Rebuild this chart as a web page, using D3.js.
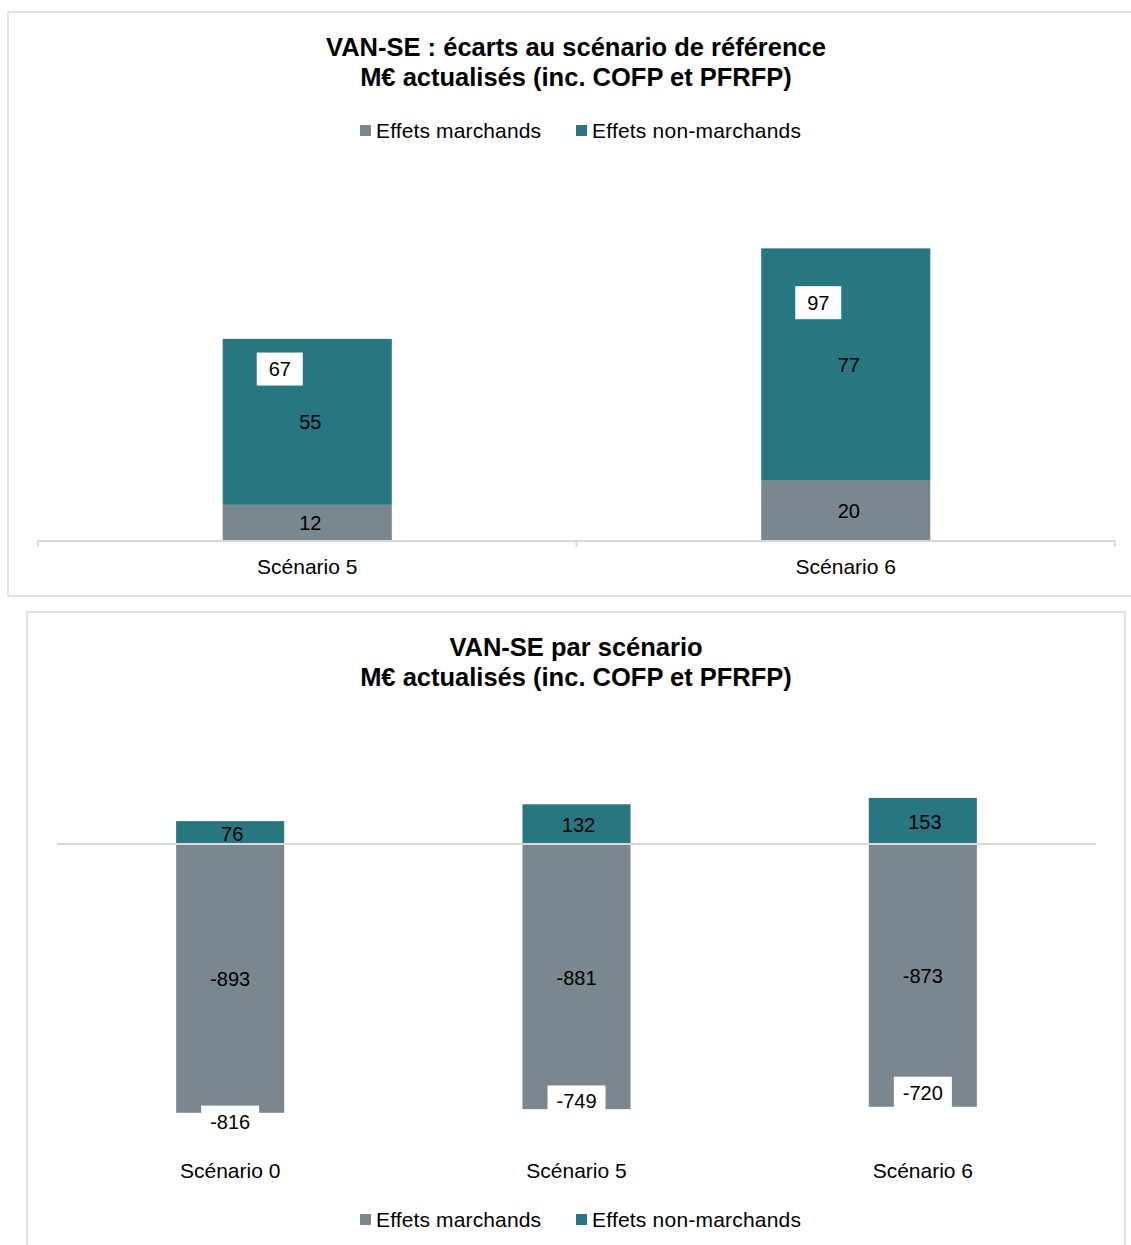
<!DOCTYPE html>
<html>
<head>
<meta charset="utf-8">
<script src="https://cdn.jsdelivr.net/npm/d3@7"></script>
<style>
  body { margin: 0; background: #fff; }
  svg { display: block; font-family: "Liberation Sans", Arial, sans-serif; }
</style>
</head>
<body>
<svg id="chart" width="1131" height="1245"></svg>
<script>
// chart 1 : écarts au scénario de référence
const ecartCategories = ['Scénario 5', 'Scénario 6'];
const ecartMarchands = [12, 20];
const ecartNonMarchands = [55, 77];
const ecartTotals = [67, 97];

// chart 2 : VAN-SE par scénario
const vanCategories = ['Scénario 0', 'Scénario 5', 'Scénario 6'];
const vanMarchands = [-893, -881, -873];
const vanNonMarchands = [76, 132, 153];
const vanTotals = [-816, -749, -720];

const seriesNames = ['Effets marchands', 'Effets non-marchands'];

const GRAY = '#7b878e';
const TEAL = '#277681';
const FRAME = '#d9d9d9';

const svg = d3.select('#chart');

function legend(g, cy) {
    const xs = [360, 576];
    seriesNames.forEach((name, i) => {
        g.append('rect')
            .attr('x', xs[i]).attr('y', cy - 6)
            .attr('width', 11).attr('height', 11)
            .attr('fill', i === 0 ? GRAY : TEAL);
        g.append('text')
            .attr('x', xs[i] + 16).attr('y', cy)
            .attr('dy', '0.35em')
            .attr('font-size', 21)
            .attr('textLength', i === 0 ? 165 : 209)
            .attr('fill', '#000')
            .text(name);
    });
}

function title(g, lines, y0) {
    lines.forEach((t, i) => {
        g.append('text')
            .attr('x', 576).attr('y', y0 + i * 30)
            .attr('dy', '0.35em')
            .attr('text-anchor', 'middle')
            .attr('font-size', 25.5)
            .attr('font-weight', 'bold')
            .text(t);
    });
}

// ---------- Chart 1 ----------
const g1 = svg.append('g');
g1.append('rect')
    .attr('x', 8).attr('y', 12)
    .attr('width', 1140).attr('height', 584)
    .attr('fill', '#fff').attr('stroke', FRAME).attr('stroke-width', 1.5);

title(g1, ['VAN-SE : écarts au scénario de référence', 'M€ actualisés (inc. COFP et PFRFP)'], 47);
legend(g1, 131);

const x1 = d3.scaleBand()
    .domain(ecartCategories)
    .range([38, 1115])
    .paddingInner(0.686)
    .paddingOuter(0.343);

const y1 = d3.scaleLinear()
    .domain([0, 120])
    .range([541, 541 - 362]);

const bw1 = x1.bandwidth();

ecartCategories.forEach((c, i) => {
    const x = x1(c);
    const cx = x + bw1 / 2;
    const m = ecartMarchands[i];
    const n = ecartNonMarchands[i];
    g1.append('rect')
        .attr('x', x).attr('y', y1(m))
        .attr('width', bw1).attr('height', y1(0) - y1(m))
        .attr('fill', GRAY);
    g1.append('rect')
        .attr('x', x).attr('y', y1(m + n))
        .attr('width', bw1).attr('height', y1(m) - y1(m + n))
        .attr('fill', TEAL);
    g1.append('text')
        .attr('x', cx + 3).attr('y', (y1(0) + y1(m)) / 2)
        .attr('dy', '0.35em').attr('text-anchor', 'middle')
        .attr('font-size', 20).text(m);
    g1.append('text')
        .attr('x', cx + 3).attr('y', (y1(m) + y1(m + n)) / 2)
        .attr('dy', '0.35em').attr('text-anchor', 'middle')
        .attr('font-size', 20).text(n);

    // total label in white box, near the top-left of the bar
    const t = ecartTotals[i];
    const ly = y1(n + 2);
    const lx = cx - 27.5;
    g1.append('rect')
        .attr('x', lx - 23).attr('y', ly - 16.5)
        .attr('width', 46).attr('height', 33)
        .attr('fill', '#fff');
    g1.append('text')
        .attr('x', lx).attr('y', ly)
        .attr('dy', '0.35em').attr('text-anchor', 'middle')
        .attr('font-size', 20).text(t);
});

// axis
const ax1 = g1.append('g').attr('transform', `translate(0,${y1(0)})`);
ax1.append('line')
    .attr('x1', 37).attr('x2', 1115)
    .attr('stroke', FRAME).attr('stroke-width', 2);
const tickXs = [38].concat(ecartCategories.map(c => x1(c) + bw1 / 2 + x1.step() / 2));
ax1.selectAll('line.tick')
    .data(tickXs)
    .join('line')
    .attr('class', 'tick')
    .attr('x1', d => d).attr('x2', d => d)
    .attr('y1', 0).attr('y2', 6)
    .attr('stroke', FRAME).attr('stroke-width', 2);
ax1.selectAll('text.cat')
    .data(ecartCategories)
    .join('text')
    .attr('class', 'cat')
    .attr('x', d => x1(d) + bw1 / 2)
    .attr('y', 26)
    .attr('dy', '0.35em').attr('text-anchor', 'middle')
    .attr('font-size', 21)
    .text(d => d);

// ---------- Chart 2 ----------
const g2 = svg.append('g');
g2.append('rect')
    .attr('x', 27).attr('y', 612)
    .attr('width', 1098).attr('height', 660)
    .attr('fill', '#fff').attr('stroke', FRAME).attr('stroke-width', 1.5);

title(g2, ['VAN-SE par scénario', 'M€ actualisés (inc. COFP et PFRFP)'], 647);

const x2 = d3.scaleBand()
    .domain(vanCategories)
    .range([57, 1096])
    .paddingInner(0.688)
    .paddingOuter(0.344);

const y2 = d3.scaleLinear()
    .domain([-1000, 300])
    .range([844 + 301, 844 - 90.3]);

const bw2 = x2.bandwidth();

vanCategories.forEach((c, i) => {
    const x = x2(c);
    const cx = x + bw2 / 2;
    const m = vanMarchands[i];
    const n = vanNonMarchands[i];
    g2.append('rect')
        .attr('x', x).attr('y', y2(0))
        .attr('width', bw2).attr('height', y2(m) - y2(0))
        .attr('fill', GRAY);
    g2.append('rect')
        .attr('x', x).attr('y', y2(n))
        .attr('width', bw2).attr('height', y2(0) - y2(n))
        .attr('fill', TEAL);
    g2.append('text')
        .attr('x', cx + 2).attr('y', (y2(0) + y2(n)) / 2 + 1)
        .attr('dy', '0.35em').attr('text-anchor', 'middle')
        .attr('font-size', 20).text(n);
    g2.append('text')
        .attr('x', cx).attr('y', (y2(0) + y2(m)) / 2 + 1)
        .attr('dy', '0.35em').attr('text-anchor', 'middle')
        .attr('font-size', 20).text(m);

    const t = vanTotals[i];
    const ly = y2(t) + 32;
    g2.append('rect')
        .attr('x', cx - 29).attr('y', ly - 16)
        .attr('width', 58).attr('height', 32)
        .attr('fill', '#fff');
    g2.append('text')
        .attr('x', cx).attr('y', ly)
        .attr('dy', '0.35em').attr('text-anchor', 'middle')
        .attr('font-size', 20).text(t);
});

g2.append('line')
    .attr('x1', 57).attr('x2', 1096)
    .attr('y1', y2(0)).attr('y2', y2(0))
    .attr('stroke', FRAME).attr('stroke-width', 2);

g2.selectAll('text.cat')
    .data(vanCategories)
    .join('text')
    .attr('class', 'cat')
    .attr('x', d => x2(d) + bw2 / 2)
    .attr('y', 1171)
    .attr('dy', '0.35em').attr('text-anchor', 'middle')
    .attr('font-size', 21)
    .text(d => d);

legend(g2, 1220);
</script>
</body>
</html>
